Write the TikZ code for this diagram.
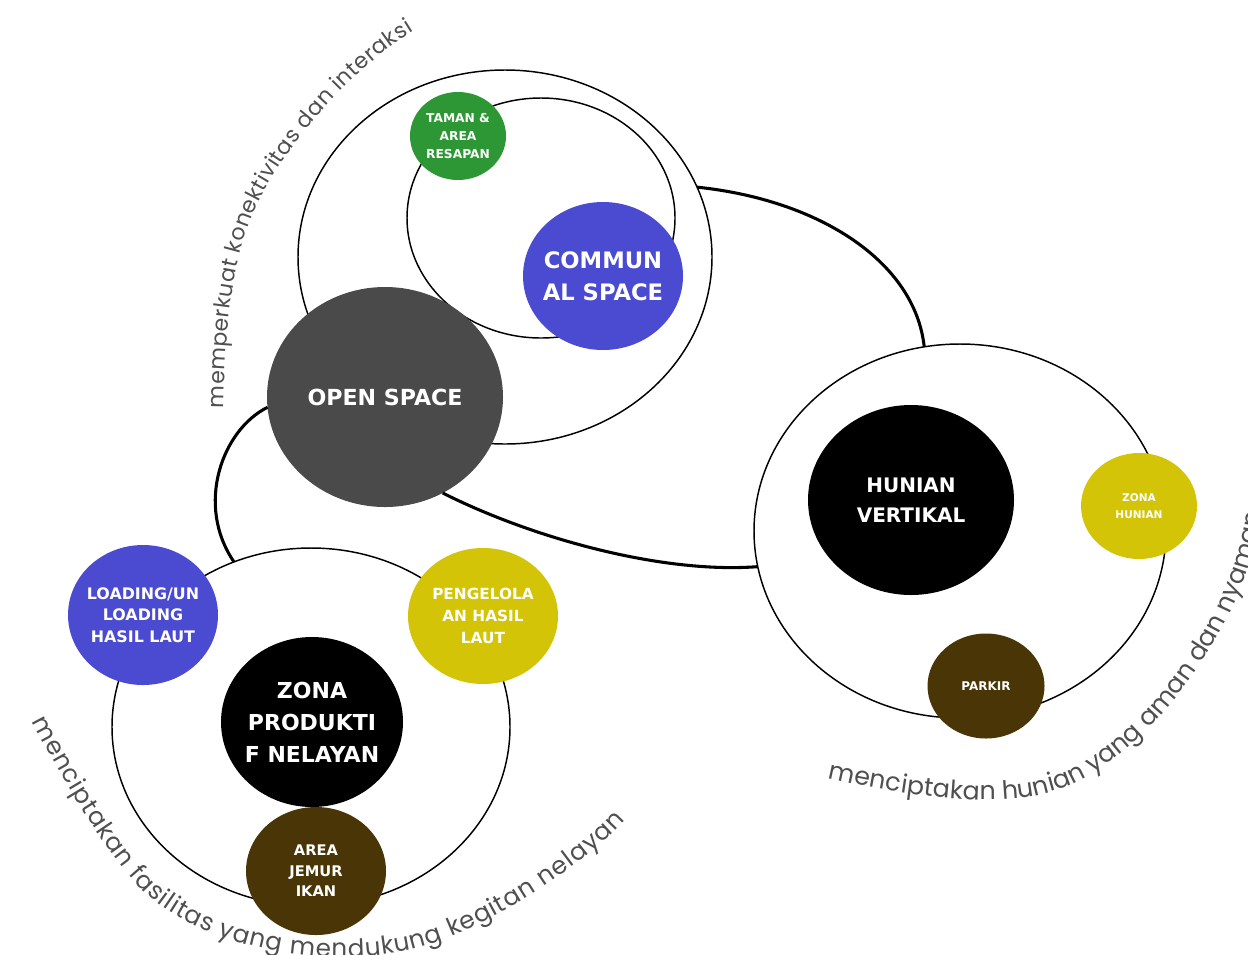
\documentclass[tikz,border=0pt]{standalone}
\usepackage{fontspec}
\setmainfont{DejaVu Sans}
\newfontfamily\arcfont{Poppins}
\usetikzlibrary{shapes.geometric,decorations.text}
\definecolor{osgray}{HTML}{4A4A4A}
\definecolor{cblue}{HTML}{4B4BD2}
\definecolor{tgreen}{HTML}{2E9735}
\definecolor{yel}{HTML}{D3C408}
\definecolor{brn}{HTML}{4A3506}
\definecolor{tgray}{HTML}{4F4F4F}
\begin{document}
\begin{tikzpicture}[x=0.75pt, y=-0.75pt,
  ell/.style 2 args={ellipse, minimum width={#1*1.5pt}, minimum height={#2*1.5pt}, inner sep=0pt, outer sep=0pt},
  ring/.style={draw=black, line width=1.1pt, fill=white},
  blob/.style={fill=#1, draw=none},
  lab/.style 2 args={text=white, font=\bfseries\fontsize{#1}{#2}\selectfont, align=center, inner sep=0pt},
  link/.style={line width=2.3pt, draw=black}
]
\fill[white] (0,0) rectangle (1248,954);
\useasboundingbox (0,0) rectangle (1248,954);

% outline rings
\node[ell={207}{187}, ring] (tO) at (505,257) {};
\node[ell={134}{120}, ring] (tI) at (541,218) {};
\node[ell={199}{179}, ring] (bO) at (311,727) {};
\node[ell={206}{187}, ring] (rO) at (960,531) {};

% filled circles
\node[ell={118}{110}, blob=osgray, label={[lab={16.6}{20}]center:OPEN SPACE}] (os) at (385,397) {};
\node[ell={80}{74}, blob=cblue, label={[lab={17}{24}]center:{COMMUN\\AL SPACE}}] (comm) at (603,276) {};
\node[ell={48}{44}, blob=tgreen, label={[lab={9.2}{13.5}]center:{TAMAN \&\\AREA\\RESAPAN}}] (taman) at (458,136) {};

\node[ell={103}{95}, blob=black, label={[lab={15}{22.5}]center:{HUNIAN\\VERTIKAL}}] (hv) at (911,500) {};
\node[ell={58}{53}, blob=yel, label={[lab={7.9}{12.8}]center:{ZONA\\HUNIAN}}] (zh) at (1139,506) {};
\node[ell={58.5}{52.5}, blob=brn, label={[lab={9}{12}]center:PARKIR}] (parkir) at (986,686) {};

\node[ell={75}{70}, blob=cblue, label={[lab={11.9}{16.3}]center:{LOADING/UN\\LOADING\\HASIL LAUT}}] (load) at (143,615) {};
\node[ell={75}{68}, blob=yel, label={[lab={11.5}{16.3}]center:{PENGELOLA\\AN HASIL\\LAUT}}] (peng) at (483,616) {};
\node[ell={91}{85}, blob=black, label={[lab={16.5}{24}]center:{ZONA\\PRODUKTI\\F NELAYAN}}] (zp) at (312,722) {};
\node[ell={70}{64}, blob=brn, label={[lab={11}{15.4}]center:{AREA\\JEMUR\\IKAN}}] (jemur) at (316,871) {};

% connectors
\draw[link] (tO.20) .. controls (820,200) and (915,262) .. (rO.101);
\draw[link] (os.-59) .. controls (530,537) and (660,574) .. (rO.190);
\draw[link] (os.185) .. controls (222,430) and (195,505) .. (bO.115);

% curved texts
\path[decorate, decoration={text along path, text align={fit to path},
  text={|\arcfont\fontsize{16.5}{16.5}\selectfont\color{tgray}|memperkuat konektivitas dan interaksi}}]
  (224,408) .. controls (225,330) and (232,250) .. (262,195)
  .. controls (292,140) and (350,70) .. (414,31);
\path[decorate, decoration={text along path, text align={fit to path},
  text={|\arcfont\fontsize{18.5}{18.5}\selectfont\color{tgray}|menciptakan fasilitas yang mendukung kegitan nelayan}}]
  (32,721) .. controls (62,779) and (115,869) .. (150,897)
  .. controls (205,945) and (315,968) .. (400,952)
  .. controls (474,940) and (585,865) .. (625,820);
\path[decorate, decoration={text along path,
  text={|\arcfont\fontsize{19}{19}\selectfont\color{tgray}|menciptakan hunian yang aman dan nyaman}}]
  (828,778) .. controls (893,793) and (993,810) .. (1050,792)
  .. controls (1140,770) and (1255,620) .. (1262,500)
  -- (1266,380);
\end{tikzpicture}
\end{document}
